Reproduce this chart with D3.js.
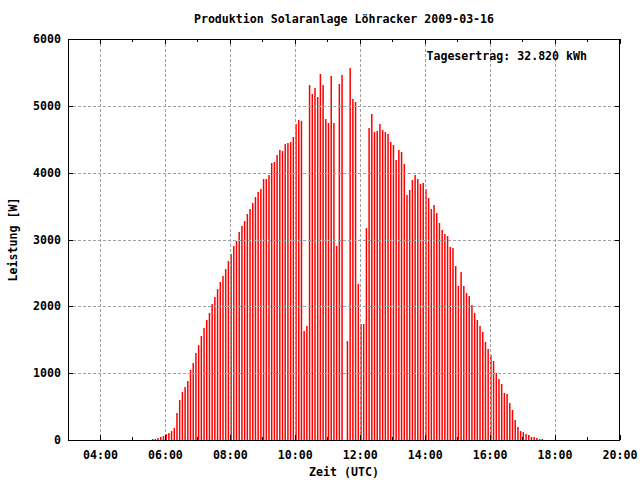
<!DOCTYPE html>
<html><head><meta charset="utf-8">
<script src="https://cdn.jsdelivr.net/npm/d3@7"></script>
<style>
body{margin:0;background:#fff}
svg{display:block}
text{font-family:"DejaVu Sans Mono","Liberation Mono",monospace;font-weight:bold;font-size:11.6px;fill:#000}
</style>
</head><body>
<svg id="c" width="640" height="480"></svg>
<script>
const title = "Produktion Solaranlage Löhracker 2009-03-16";
const xAxisTitle = "Zeit (UTC)";
const yAxisTitle = "Leistung [W]";
const yieldLabel = "Tagesertrag: 32.820 kWh";

const times = [
"05:35","05:40","05:45","05:50","05:55",
"06:00","06:05","06:10","06:15","06:20","06:25","06:30","06:35","06:40","06:45","06:50","06:55",
"07:00","07:05","07:10","07:15","07:20","07:25","07:30","07:35","07:40","07:45","07:50","07:55",
"08:00","08:05","08:10","08:15","08:20","08:25","08:30","08:35","08:40","08:45","08:50","08:55",
"09:00","09:05","09:10","09:15","09:20","09:25","09:30","09:35","09:40","09:45","09:50","09:55",
"10:00","10:05","10:10","10:15","10:20","10:25","10:30","10:35","10:40","10:45","10:50","10:55",
"11:00","11:05","11:10","11:15","11:20","11:25","11:30","11:35","11:40","11:45","11:50","11:55",
"12:00","12:05","12:10","12:15","12:20","12:25","12:30","12:35","12:40","12:45","12:50","12:55",
"13:00","13:05","13:10","13:15","13:20","13:25","13:30","13:35","13:40","13:45","13:50","13:55",
"14:00","14:05","14:10","14:15","14:20","14:25","14:30","14:35","14:40","14:45","14:50","14:55",
"15:00","15:05","15:10","15:15","15:20","15:25","15:30","15:35","15:40","15:45","15:50","15:55",
"16:00","16:05","16:10","16:15","16:20","16:25","16:30","16:35","16:40","16:45","16:50","16:55",
"17:00","17:05","17:10","17:15","17:20","17:25","17:30","17:35"
];

const power = [
18,18,32,48,62,
95,108,138,183,405,600,718,795,883,1045,1150,1300,
1420,1550,1670,1790,1895,2030,2135,2255,2360,2460,2565,2685,
2790,2910,2985,3105,3195,3270,3375,3450,3540,3630,3705,3750,
3912,3898,3972,4152,4167,4257,4333,4330,4435,4450,4465,4540,
4725,4792,4778,1625,1700,5315,5180,5270,5135,5480,5315,4805,
4745,5450,4745,2910,5330,5465,0,1480,5565,5105,5060,2330,
1741,1731,3179,4672,4882,4615,4630,4733,4645,4615,4585,4465,
4420,4196,4345,4315,4136,3660,3748,3883,3958,3912,3823,3838,
3763,3614,3450,3510,3390,3254,3149,3075,3045,2895,2880,2597,
2298,2507,2298,2194,2149,2017,1895,1791,1701,1612,1463,1358,
1269,1179,1000,910,836,701,687,552,448,299,194,134,
119,90,75,45,45,30,15,15
];

const xDomain = ["03:00","20:00"];
const xTickLabels = ["04:00","06:00","08:00","10:00","12:00","14:00","16:00","18:00","20:00"];
const yTickValues = [0,1000,2000,3000,4000,5000,6000];

const parse = d3.utcParse("%H:%M");
const fmt = d3.utcFormat("%H:%M");
const L = 68, R = 620, T = 39, B = 440;

const x = d3.scaleUtc().domain(xDomain.map(parse)).range([L, R]);
const y = d3.scaleLinear().domain([0, 6000]).range([B, T]);

const svg = d3.select("#c");
svg.append("rect").attr("width",640).attr("height",480).attr("fill","#fff");

// bars (impulses)
const data = times.map((t,i)=>({t:parse(t), v:power[i]})).filter(d=>d.v>0);
svg.append("g").selectAll("rect").data(data).join("rect")
  .attr("x", d=>x(d.t))
  .attr("width", 1.5)
  .attr("y", d=>Math.round(y(d.v)))
  .attr("height", d=>B - Math.round(y(d.v)))
  .attr("fill", "#ff0000");

// grid
const majorX = xTickLabels.map(parse);
const minorX = x.ticks(d3.utcHour.every(1));
const grid = svg.append("g").attr("stroke","#a0a0a0").attr("stroke-width",1).attr("stroke-dasharray","3,2");
majorX.filter(d=>x(d)<R-1).forEach(d=>{
  const px = Math.floor(x(d))+0.5;
  grid.append("line").attr("x1",px).attr("x2",px).attr("y1",T).attr("y2",B);
});
yTickValues.filter(v=>v>0 && v<6000).forEach(v=>{
  const py = Math.round(y(v))+0.5;
  grid.append("line").attr("x1",L).attr("x2",R).attr("y1",py).attr("y2",py);
});

// ticks
const tk = svg.append("g").attr("stroke","#000").attr("stroke-width",1);
minorX.forEach(d=>{
  const px = Math.floor(x(d))+0.5;
  const isMajor = majorX.some(m=>+m===+d);
  const len = isMajor ? 5 : 3;
  tk.append("line").attr("x1",px).attr("x2",px).attr("y1",B).attr("y2",B-len);
  tk.append("line").attr("x1",px).attr("x2",px).attr("y1",T).attr("y2",T+len);
});
yTickValues.forEach(v=>{
  const py = Math.round(y(v))+0.5;
  tk.append("line").attr("x1",L).attr("x2",L+5).attr("y1",py).attr("y2",py);
  tk.append("line").attr("x1",R).attr("x2",R-5).attr("y1",py).attr("y2",py);
});

// border
svg.append("rect").attr("x",L+0.5).attr("y",T+0.5).attr("width",R-L-1).attr("height",B-T)
  .attr("fill","none").attr("stroke","#000").attr("stroke-width",1);

// tick labels
svg.append("g").selectAll("text").data(majorX).join("text")
  .attr("x", d=>x(d)).attr("y", 459).attr("text-anchor","middle").text(d=>fmt(d));
svg.append("g").selectAll("text").data(yTickValues).join("text")
  .attr("x", 61).attr("y", v=>y(v)+4).attr("text-anchor","end").text(v=>v);

// titles
svg.append("text").attr("x",(L+R)/2).attr("y",23).attr("text-anchor","middle").text(title);
svg.append("text").attr("x",(L+R)/2).attr("y",476).attr("text-anchor","middle").text(xAxisTitle);
svg.append("text").attr("transform",`translate(17,${(T+B)/2}) rotate(-90)`).attr("text-anchor","middle").text(yAxisTitle);
svg.append("text").attr("x",587).attr("y",60).attr("text-anchor","end").text(yieldLabel);
</script>
</body></html>
